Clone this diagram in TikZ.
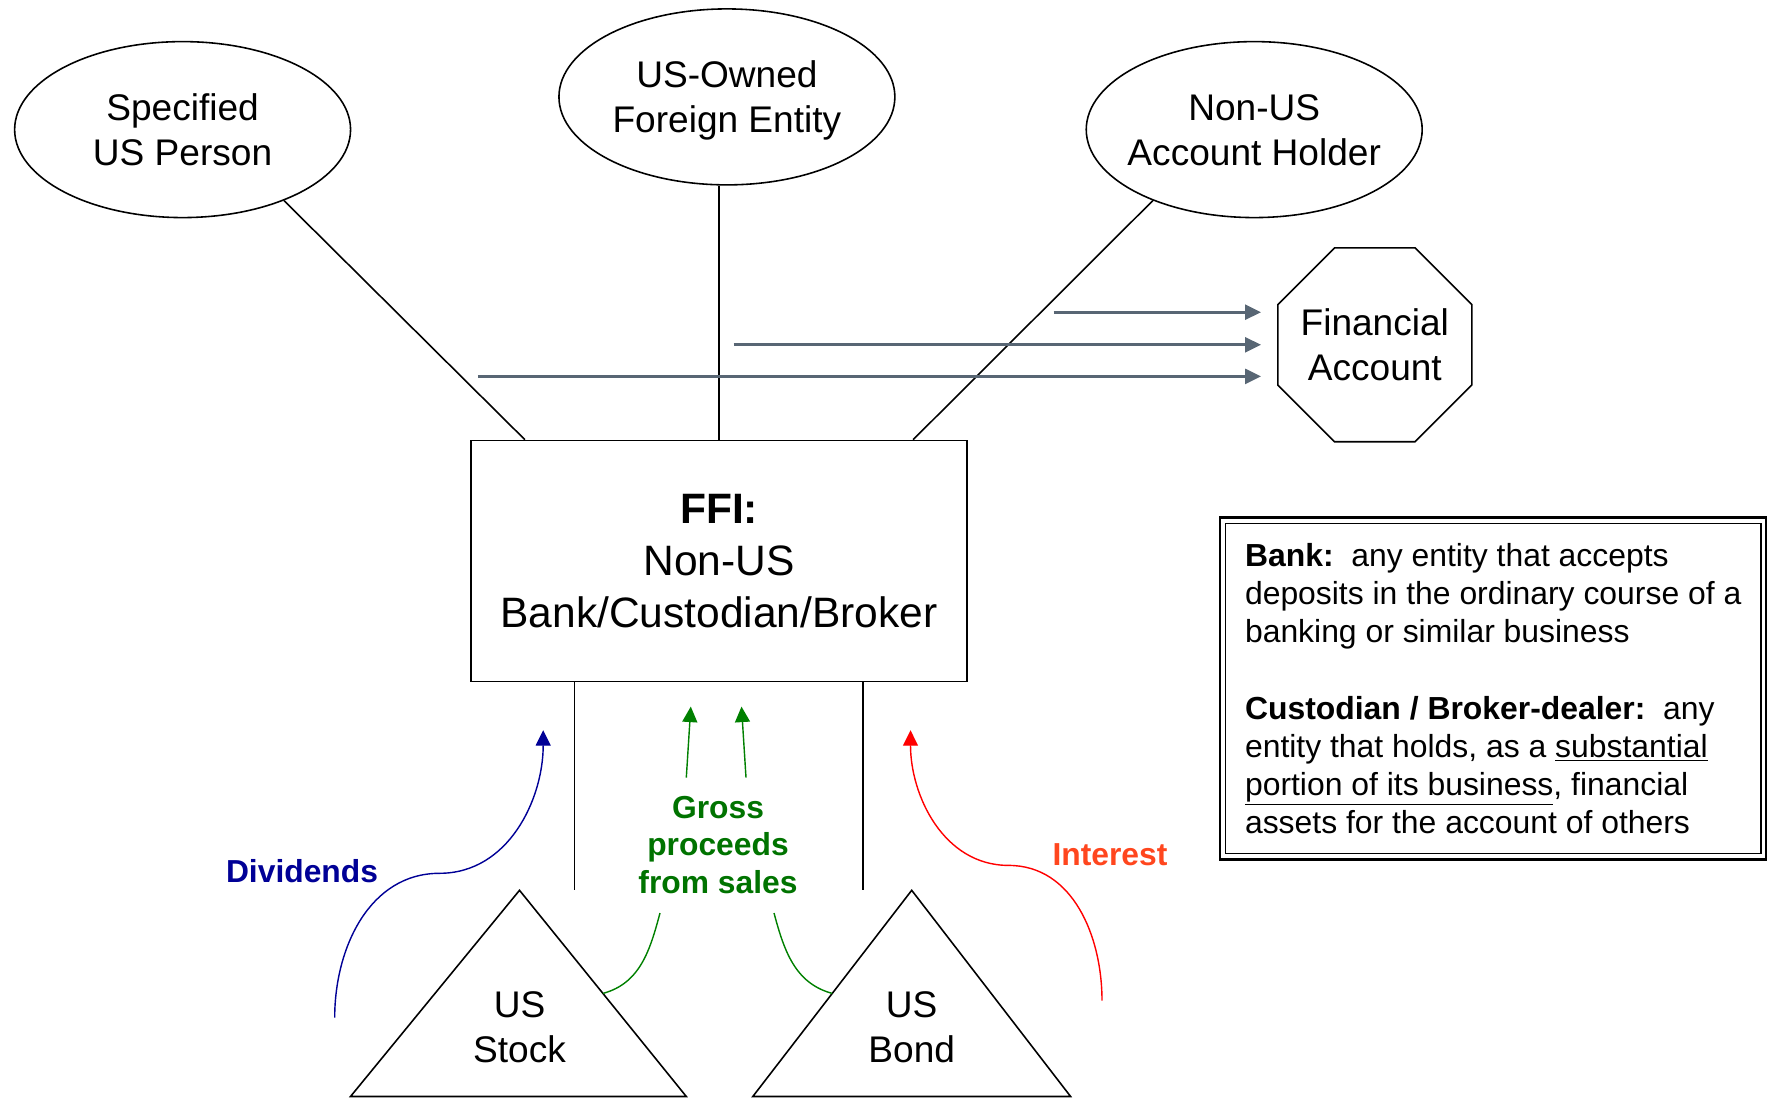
\documentclass[tikz,border=0pt]{standalone}
\usepackage{fontspec}
\setmainfont{Liberation Sans}
\usetikzlibrary{shapes.geometric,arrows.meta,calc}

\definecolor{divblue}{RGB}{0,0,150}
\definecolor{procgreen}{RGB}{0,128,0}
\definecolor{proctext}{RGB}{0,115,0}
\definecolor{intred}{RGB}{255,0,0}
\definecolor{inttext}{RGB}{255,70,30}
\definecolor{feedgray}{RGB}{88,102,116}

\begin{document}
\begin{tikzpicture}[x=0.02cm,y=-0.02cm,
    party/.style={draw,ellipse,line width=0.9pt,minimum width=6.72cm,minimum height=3.52cm,
                  inner sep=0pt,inner xsep=-0.4cm,text depth=0pt,align=center,font=\fontsize{21.1}{25.6}\selectfont},
    wire/.style={line width=0.9pt},
    feed/.style={feedgray,line width=1.5pt,shorten >=0.32cm,-{Triangle[length=0.32cm,width=0.3cm]}},
    flow/.style={line width=0.8pt,-{Triangle[length=0.31cm,width=0.3cm]}},
    tag/.style={font=\fontsize{18.1}{21.4}\selectfont\bfseries,align=center}]
        \useasboundingbox (0,0) rectangle (1767,1098);
        % Define the nodes
        \node[party] (spec)  at (182.6,129.6)  {Specified\\US Person};
        \node[party] (usfe)  at (726.9,96.9)   {US-Owned\\Foreign Entity};
        \node[party] (nonus) at (1254.2,129.6) {Non-US\\Account Holder};
        \node[draw,regular polygon,regular polygon sides=8,minimum size=4.2cm,inner sep=-0.15cm,
              line width=0.9pt,align=center,font=\fontsize{21.1}{25.6}\selectfont]
              (facct) at (1374.8,344.8) {Financial\\Account};
        \node[draw,rectangle,line width=0.9pt,minimum width=9.92cm,minimum height=4.82cm,inner sep=0pt,
              align=center,font=\fontsize{24.2}{29.5}\selectfont]
              (ffi) at (719,561) {{\bfseries FFI:}\\Non-US\\Bank/Custodian/Broker};
        \node[draw,rectangle,line width=0.7pt,minimum width=10.71cm,minimum height=6.606cm,inner sep=0pt,
              align=left,font=\fontsize{18.15}{21.7}\selectfont]
              (defs) at (1493.2,688.6) {\textbf{Bank:}\ \ any entity that accepts\\
              deposits in the ordinary course of a\\
              banking or similar business\\[21.7pt]
              \textbf{Custodian / Broker-dealer:}\ \ any\\
              entity that holds, as a \underline{substantial}\\
              \underline{portion of its business}, financial\\
              assets for the account of others};
        \draw[line width=1.6pt] ([xshift=-0.1cm,yshift=0.1cm]defs.north west) rectangle ([xshift=0.1cm,yshift=-0.1cm]defs.south east);
        % Securities
        \coordinate (stocktop) at (519.5,890.3);
        \coordinate (stockbl)  at (350.5,1096.5);
        \coordinate (stockbr)  at (686.3,1096.5);
        \coordinate (bondtop)  at (911.7,890.3);
        \coordinate (bondbl)   at (752.8,1096.5);
        \coordinate (bondbr)   at (1070.6,1096.5);
        \draw[wire] (stocktop) -- (stockbl) -- (stockbr) -- cycle;
        \draw[wire] (bondtop) -- (bondbl) -- (bondbr) -- cycle;
        \node[align=center,font=\fontsize{21.1}{25.6}\selectfont] (stock) at (519.5,1027) {US\\Stock};
        \node[align=center,font=\fontsize{21.1}{25.6}\selectfont] (bond)  at (911.7,1027) {US\\Bond};
        % Labels
        \node[tag,divblue]   (divs)  at (302,871)  {Dividends};
        \node[tag,proctext]  (gross) at (718,845)  {Gross\\proceeds\\from sales};
        \node[tag,inttext]   (intr)  at (1110,855) {Interest};
        % Connect the nodes
        \draw[wire] (spec.-35) -- (ffi.148);
        \draw[wire] (usfe.south -| ffi.north) -- (ffi.north);
        \draw[wire] (nonus.-145) -- (ffi.32);
        \coordinate (legl) at (574.7,890.3);
        \coordinate (legr) at (863.2,890.3);
        \draw[wire] (ffi.south -| legl) -- (legl);
        \draw[wire] (ffi.south -| legr) -- (legr);
        % Reporting arrows
        \coordinate (feedA) at (1053.7,312.2);
        \coordinate (feedB) at (733.6,344.8);
        \coordinate (feedC) at (477.8,376.4);
        \draw[feed] (feedA) -- (feedA -| facct.west);
        \draw[feed] (feedB) -- (feedB -| facct.west);
        \draw[feed] (feedC) -- (feedC -| facct.west);
        % Income flows
        \coordinate (divfrom) at (334.7,1017.6);
        \coordinate (divto)   at (543.2,730.2);
        \coordinate (intfrom) at (1102,1000.7);
        \coordinate (intto)   at (910.5,730.2);
        \draw[flow,divblue] (divfrom) to[out=90,in=180] (439.5,873.3) to[out=0,in=-90] (divto);
        \draw[flow,intred] (intfrom) to[out=90,in=0] (1008.6,865.4) to[out=180,in=-90] (intto);
        \draw[flow,procgreen] (686.3,777.6) -- (690.8,706.6);
        \draw[flow,procgreen] (746,777.6) -- (741.5,706.6);
        \draw[line width=0.8pt,procgreen] (660,913) to[out=-105,in=15] ($(stocktop)!0.5!(stockbr)$);
        \draw[line width=0.8pt,procgreen] (774,913) to[out=-75,in=165] ($(bondtop)!0.5!(bondbl)$);
\end{tikzpicture}
\end{document}
